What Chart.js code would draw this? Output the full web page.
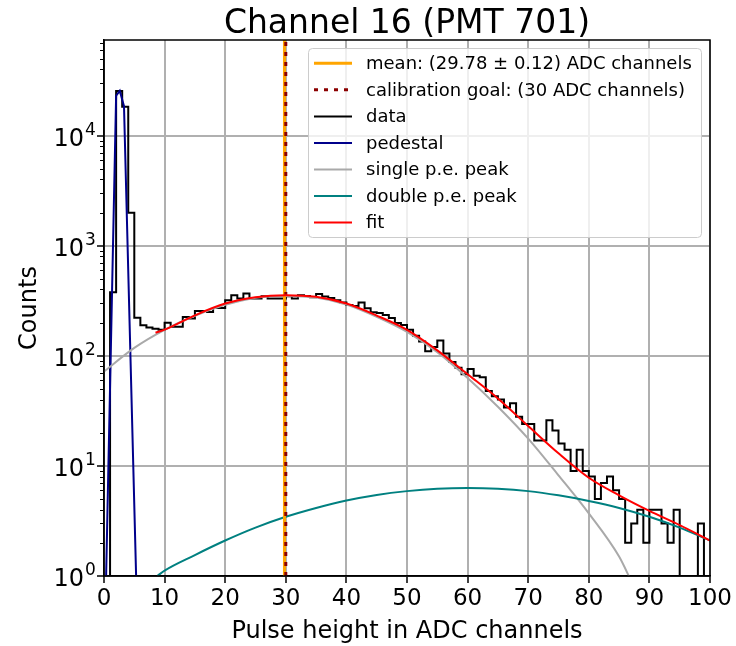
<!DOCTYPE html>
<html>
<head>
<meta charset="utf-8">
<title>Channel 16 (PMT 701)</title>
<script src="https://cdn.jsdelivr.net/npm/chart.js@4.4.0/dist/chart.umd.min.js"></script>
<style>
  html, body { margin: 0; padding: 0; background: #fff; }
  #wrap { width: 736px; height: 646px; }
</style>
</head>
<body>
<div id="wrap"><canvas id="pmt" width="736" height="646"></canvas></div>
<script>
// counts per ADC bin, bin i covers [i, i+1)
var counts = [
  0, 378, 25400, 18300, 1990, 222, 189, 181, 176, 172,
  200, 184, 184, 225, 218, 255, 255, 250, 272, 272,
  320, 355, 331, 367, 331, 331, 348, 331, 331, 331,
  348, 331, 355, 350, 340, 365, 345, 335, 320, 305,
  290, 283, 305, 270, 248, 245, 235, 220, 198, 190,
  172, 152, 135, 110, 120, 138, 105, 88, 78, 68,
  76, 66, 64, 48, 43, 40, 34, 37, 28, 24,
  24, 17, 17, 26, 21, 16, 14, 9, 14, 9,
  8, 5, 7, 8, 6, 5, 2, 3, 4, 2,
  4, 4, 3, 2, 4, 0, 0, 0, 3, 0
];

// fitted components, sampled along the pulse height axis
var pedestalX = [0.35, 2.0, 2.6, 3.3, 5.3];
var pedestalY = [1, 23000, 25500, 18500, 1];

var singleX = [0, 5, 10, 15, 20, 25, 30, 35, 40, 45, 50, 55, 60, 65, 70, 75, 80, 85, 87];
var singleY = [72, 118, 172, 231, 290, 337, 350, 338, 292, 226, 165, 108, 63, 34.5, 17.7, 8.2, 3.7, 1.5, 0.9];

var doubleX = [8.8, 10, 15, 20, 25, 30, 35, 40, 45, 50, 55, 60, 65, 70, 75, 80, 85, 90, 95, 100];
var doubleY = [1.0, 1.12, 1.55, 2.1, 2.75, 3.45, 4.15, 4.85, 5.45, 5.9, 6.2, 6.3, 6.2, 5.9, 5.4, 4.8, 4.15, 3.45, 2.75, 2.1];

var fitX = [8.5, 10, 15, 20, 25, 30, 35, 40, 45, 50, 55, 60, 65, 70, 75, 80, 85, 90, 95, 100];
var fitY = [162, 173, 233, 298, 340, 355, 343, 298, 232, 172, 112, 68, 41, 23, 13, 7.8, 5.4, 3.9, 2.9, 2.1];

var meanPH = 29.78;
var meanErr = 0.12;
var goalPH = 30;

var xTicks = [0, 10, 20, 30, 40, 50, 60, 70, 80, 90, 100];
var yDecades = [0, 1, 2, 3, 4];
var yTop = 73800;

var FONT = '"DejaVu Sans", "Liberation Sans", sans-serif';

function zip(xs, ys) {
  var pts = [];
  for (var i = 0; i < xs.length; i++) pts.push({x: xs[i], y: ys[i]});
  return pts;
}

// step outline of the histogram; empty bins drop below the axis floor
var histPoints = [];
for (var i = 0; i < counts.length; i++) {
  histPoints.push({x: i, y: counts[i] > 0 ? counts[i] : 0.1});
}
histPoints.push({x: counts.length, y: histPoints[histPoints.length - 1].y});

function vline(x) {
  return [{x: x, y: 1}, {x: x, y: yTop}];
}

var datasets = [
  {label: 'mean: (' + meanPH.toFixed(2) + ' \u00b1 ' + meanErr.toFixed(2) + ') ADC channels',
   data: vline(meanPH), borderColor: '#ffa500', borderWidth: 3, order: 2},
  {label: 'calibration goal: (' + goalPH + ' ADC channels)',
   data: vline(goalPH), borderColor: '#8b0000', borderWidth: 3, borderDash: [4, 6], order: 1},
  {label: 'data', data: histPoints, borderColor: '#000000', borderWidth: 2, stepped: true, order: 6},
  {label: 'pedestal', data: zip(pedestalX, pedestalY), borderColor: '#00008b', borderWidth: 2, order: 5},
  {label: 'single p.e. peak', data: zip(singleX, singleY), borderColor: '#a9a9a9', borderWidth: 2,
   cubicInterpolationMode: 'monotone', order: 4},
  {label: 'double p.e. peak', data: zip(doubleX, doubleY), borderColor: '#008080', borderWidth: 2,
   cubicInterpolationMode: 'monotone', order: 3},
  {label: 'fit', data: zip(fitX, fitY), borderColor: '#ff0000', borderWidth: 2,
   cubicInterpolationMode: 'monotone', order: 0}
];
datasets.forEach(function(d) {
  d.pointRadius = 0;
  d.fill = false;
  d.backgroundColor = d.borderColor;
});

// frame, minor ticks, 10^n labels, titles and legend
var decorations = {
  id: 'decorations',
  afterDraw: function(chart) {
    var ctx = chart.ctx;
    var area = chart.chartArea;
    var ys = chart.scales.y;
    var midX = (area.left + area.right) / 2;
    ctx.save();

    ctx.strokeStyle = '#000';
    ctx.lineWidth = 1.5;
    ctx.strokeRect(area.left, area.top, area.right - area.left, area.bottom - area.top);

    ctx.lineWidth = 1;
    for (var k = 0; k < yDecades.length; k++) {
      for (var m = 2; m < 10; m++) {
        var v = m * Math.pow(10, yDecades[k]);
        if (v > yTop) continue;
        var py = Math.round(ys.getPixelForValue(v)) + 0.5;
        ctx.beginPath();
        ctx.moveTo(area.left - 4, py);
        ctx.lineTo(area.left, py);
        ctx.stroke();
      }
    }

    ctx.fillStyle = '#000';
    yDecades.forEach(function(e) {
      var py = ys.getPixelForValue(Math.pow(10, e));
      ctx.font = '24px ' + FONT;
      ctx.textAlign = 'right';
      ctx.textBaseline = 'alphabetic';
      ctx.fillText('10', 84, py + 10);
      ctx.font = '17px ' + FONT;
      ctx.textAlign = 'left';
      ctx.fillText(String(e), 85, py - 1);
    });

    ctx.font = '33px ' + FONT;
    ctx.textAlign = 'center';
    ctx.textBaseline = 'alphabetic';
    ctx.fillText('Channel 16 (PMT 701)', midX, 33);

    ctx.font = '24px ' + FONT;
    ctx.fillText('Pulse height in ADC channels', midX, 638);

    ctx.save();
    ctx.translate(36, (area.top + area.bottom) / 2);
    ctx.rotate(-Math.PI / 2);
    ctx.fillText('Counts', 0, 0);
    ctx.restore();

    // legend box
    var bx = 308.5, by = 48.5, bw = 393, bh = 189, r = 4;
    ctx.beginPath();
    ctx.moveTo(bx + r, by);
    ctx.arcTo(bx + bw, by, bx + bw, by + bh, r);
    ctx.arcTo(bx + bw, by + bh, bx, by + bh, r);
    ctx.arcTo(bx, by + bh, bx, by, r);
    ctx.arcTo(bx, by, bx + bw, by, r);
    ctx.closePath();
    ctx.fillStyle = 'rgba(255,255,255,0.8)';
    ctx.fill();
    ctx.strokeStyle = '#cccccc';
    ctx.lineWidth = 1;
    ctx.stroke();

    ctx.font = '18px ' + FONT;
    ctx.textAlign = 'left';
    ctx.textBaseline = 'middle';
    chart.data.datasets.forEach(function(d, i) {
      var ry = 63.3 + i * 26.55;
      ctx.beginPath();
      ctx.strokeStyle = d.borderColor;
      ctx.lineWidth = d.borderWidth;
      ctx.setLineDash(d.borderDash || []);
      ctx.moveTo(314, ry);
      ctx.lineTo(352, ry);
      ctx.stroke();
      ctx.setLineDash([]);
      ctx.fillStyle = '#000';
      ctx.fillText(d.label, 366, ry + 1);
    });

    ctx.restore();
  }
};

Chart.defaults.font.family = FONT;

var chart = new Chart(document.getElementById('pmt'), {
  type: 'line',
  data: {datasets: datasets},
  options: {
    responsive: false,
    animation: false,
    events: [],
    layout: {padding: {left: 0, right: 26, top: 40, bottom: 0}},
    plugins: {
      legend: {display: false},
      title: {display: false},
      tooltip: {enabled: false}
    },
    scales: {
      x: {
        type: 'linear',
        min: 0,
        max: 100,
        afterFit: function(s) { s.height = 70; },
        afterBuildTicks: function(s) {
          s.ticks = xTicks.map(function(v) { return {value: v}; });
        },
        ticks: {color: '#000', font: {size: 23}, padding: 2, maxRotation: 0, autoSkip: false},
        grid: {color: '#b0b0b0', lineWidth: 2, tickLength: 7, tickColor: '#000', tickWidth: 1.5},
        border: {display: true, color: '#000', width: 1.5}
      },
      y: {
        type: 'logarithmic',
        min: 1,
        max: yTop,
        afterFit: function(s) { s.width = 104; },
        afterBuildTicks: function(s) {
          s.ticks = yDecades.map(function(e) { return {value: Math.pow(10, e), major: true}; });
        },
        ticks: {display: false},
        grid: {color: '#b0b0b0', lineWidth: 2, tickLength: 7, tickColor: '#000', tickWidth: 1.5},
        border: {display: true, color: '#000', width: 1.5}
      }
    }
  },
  plugins: [decorations]
});
</script>
</body>
</html>
